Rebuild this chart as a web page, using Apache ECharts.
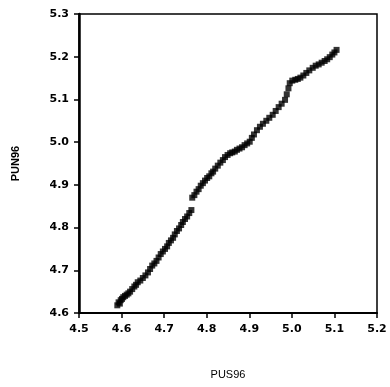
<!DOCTYPE html>
<html>
<head>
<meta charset="utf-8">
<script src="https://cdn.jsdelivr.net/npm/echarts@6/dist/echarts.min.js"></script>
<style>html,body{margin:0;padding:0;background:#fff;}#c{width:390px;height:387px;}</style>
</head>
<body>
<div id="c"></div>
<script>
var xName = 'PUS96';
var yName = 'PUN96';
var xTicks = [4.5, 4.6, 4.7, 4.8, 4.9, 5.0, 5.1, 5.2];
var yTicks = [4.6, 4.7, 4.8, 4.9, 5.0, 5.1, 5.2, 5.3];
var pusX = [4.590,4.593,4.596,4.598,4.601,4.604,4.608,4.612,4.616,4.620,4.625,4.630,4.634,4.638,4.644,4.650,4.656,4.662,4.667,4.672,4.677,4.682,4.687,4.692,4.697,4.702,4.707,4.711,4.716,4.721,4.725,4.730,4.735,4.740,4.744,4.749,4.754,4.759,4.764,
4.766,4.771,4.776,4.781,4.786,4.791,4.796,4.801,4.806,4.811,4.815,4.820,4.826,4.832,4.838,4.843,4.849,4.855,4.860,4.866,4.871,4.877,4.883,4.889,4.895,4.901,4.906,4.911,4.918,4.925,4.932,4.940,4.947,4.955,4.962,4.969,4.976,4.984,4.988,4.992,4.995,5.001,5.008,5.014,5.020,5.027,5.034,5.041,5.049,5.056,5.063,5.070,5.077,5.083,5.089,5.095,5.100,5.105];
var punY = [4.618,4.625,4.622,4.630,4.633,4.637,4.640,4.643,4.646,4.650,4.656,4.662,4.666,4.672,4.676,4.682,4.688,4.695,4.703,4.711,4.716,4.722,4.730,4.738,4.744,4.750,4.756,4.764,4.770,4.776,4.784,4.792,4.798,4.806,4.813,4.820,4.826,4.834,4.841,
4.870,4.876,4.884,4.890,4.898,4.904,4.910,4.916,4.920,4.927,4.931,4.938,4.945,4.952,4.958,4.965,4.970,4.974,4.976,4.978,4.982,4.985,4.988,4.993,4.997,5.001,5.010,5.018,5.028,5.036,5.043,5.050,5.057,5.064,5.073,5.082,5.090,5.099,5.112,5.126,5.138,5.144,5.146,5.148,5.151,5.156,5.162,5.168,5.174,5.179,5.182,5.186,5.190,5.194,5.199,5.205,5.210,5.216];

var pts = pusX.map(function (v, i) { return [v, punY[i]]; });
var font = {fontFamily: 'DejaVu Sans', fontSize: 11, fontWeight: 'bold', color: '#000'};
var chart = echarts.init(document.getElementById('c'), null, {renderer: 'canvas'});
chart.setOption({
  animation: false,
  backgroundColor: '#fff',
  grid: {left: 79, top: 14, width: 298, height: 299, show: true, borderColor: '#000', borderWidth: 1.5, backgroundColor: 'transparent'},
  xAxis: {
    type: 'value', min: xTicks[0], max: xTicks[xTicks.length - 1], interval: 0.1,
    name: xName, nameLocation: 'middle', nameGap: 56,
    nameTextStyle: {fontFamily: 'Liberation Sans', fontSize: 11, color: '#000'},
    axisLine: {show: true, lineStyle: {color: '#000', width: 2}},
    axisTick: {show: true, inside: false, length: 5, lineStyle: {color: '#000', width: 1.5}},
    axisLabel: Object.assign({margin: 11, formatter: function (v) { return v.toFixed(1); }}, font),
    splitLine: {show: false}
  },
  yAxis: {
    type: 'value', min: yTicks[0], max: yTicks[yTicks.length - 1], interval: 0.1,
    name: yName, nameLocation: 'middle', nameGap: 58,
    nameTextStyle: {fontFamily: 'Liberation Sans', fontSize: 11, fontWeight: 'bold', color: '#000'},
    axisLine: {show: true, lineStyle: {color: '#000', width: 2.5}},
    axisTick: {show: true, inside: false, length: 5, lineStyle: {color: '#000', width: 1.5}},
    axisLabel: Object.assign({margin: 10, formatter: function (v) { return v.toFixed(1); }}, font),
    splitLine: {show: false}
  },
  series: [{
    type: 'scatter', data: pts, symbol: 'rect', symbolSize: 6,
    itemStyle: {color: '#000'}
  }]
});
</script>
</body>
</html>
